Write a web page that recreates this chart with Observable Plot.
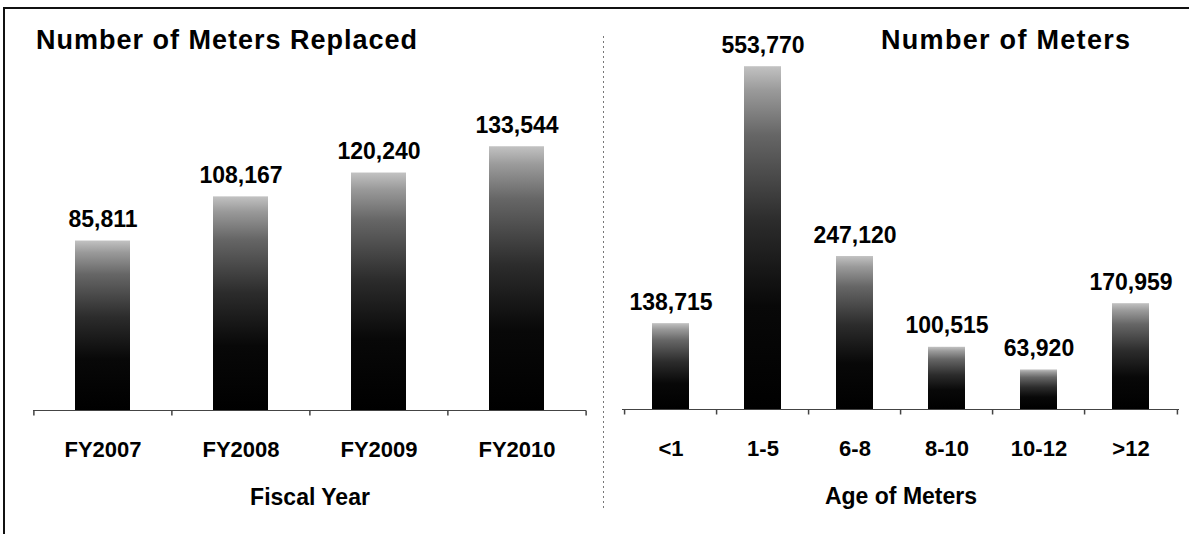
<!DOCTYPE html>
<html><head><meta charset="utf-8">
<script src="https://cdn.jsdelivr.net/npm/d3@7"></script>
<script src="https://cdn.jsdelivr.net/npm/@observablehq/plot@0.6"></script>
<style>
html,body{margin:0;padding:0;background:#fff;}
#wrap{position:relative;width:1189px;height:534px;overflow:hidden;background:#fff;font-family:"Liberation Sans",Arial,Helvetica,sans-serif;}
.title{position:absolute;font-weight:bold;font-size:27px;line-height:27px;color:#000;white-space:nowrap;letter-spacing:1px;}
.panel{position:absolute;top:0;}
#borderTop{position:absolute;left:3px;top:7px;width:1186px;height:2px;background:#111;}
#borderLeft{position:absolute;left:3px;top:7px;width:2px;height:527px;background:#111;}
#divider{position:absolute;left:603px;top:36px;width:1px;height:472px;background-image:linear-gradient(to bottom,#777 0,#777 2px,transparent 2px);background-size:1px 5px;}
</style></head><body>
<div id="wrap">
  <div id="borderTop"></div>
  <div id="borderLeft"></div>
  <div id="divider"></div>
  <div id="leftPanel" class="panel" style="left:0px"></div>
  <div id="rightPanel" class="panel" style="left:603px"></div>
  <div class="title" style="left:36px;top:27px">Number of Meters Replaced</div>
  <div class="title" style="left:881px;top:27px;letter-spacing:1.3px">Number of Meters</div>
</div>
<script>
// ---- data ----
const fiscalYears = ["FY2007", "FY2008", "FY2009", "FY2010"];
const metersReplaced = [85811, 108167, 120240, 133544];
const ageGroups = ["<1", "1-5", "6-8", "8-10", "10-12", ">12"];
const meterCounts = [138715, 553770, 247120, 100515, 63920, 170959];
const leftAxisLabel = "Fiscal Year";
const rightAxisLabel = "Age of Meters";

const FONT = '"Liberation Sans", Arial, Helvetica, sans-serif';
const fmt = d3.format(",");
const gradStops = [[0, "#c2c2c2"], [0.07, "#9a9a9a"], [0.2, "#666"], [0.45, "#2c2c2c"], [0.7, "#080808"], [1, "#000"]];

const tickSymbol = {draw(ctx) { ctx.moveTo(0, 0); ctx.lineTo(0, 5); }};

function makePanel({cats, vals, width, height, marginLeft, marginRight, marginTop, marginBottom, yMax, xLabel, gradId}) {
  const data = cats.map((c, i) => ({cat: c, val: vals[i]}));
  const step = (width - marginLeft - marginRight) / cats.length;
  const defs = () => {
    const d = d3.create("svg:defs");
    const lg = d.append("linearGradient").attr("id", gradId)
      .attr("x1", 0).attr("y1", 0).attr("x2", 0).attr("y2", 1);
    gradStops.forEach(([o, c]) => lg.append("stop").attr("offset", o).attr("stop-color", c));
    return d.node();
  };
  return Plot.plot({
    width, height, marginLeft, marginRight, marginTop, marginBottom,
    x: {domain: cats, paddingInner: 0.6, paddingOuter: 0.3, axis: null},
    y: {domain: [0, yMax], axis: null},
    style: {fontFamily: FONT, background: "transparent", overflow: "visible", color: "#000"},
    marks: [
      defs,
      Plot.barY(data, {x: "cat", y: "val", fill: `url(#${gradId})`}),
      Plot.ruleY([0], {stroke: "#444", strokeWidth: 1}),
      Plot.dot(cats, {x: d => d, y: () => 0, dx: -step / 2, symbol: tickSymbol, stroke: "#444", fill: "none", r: 5}),
      Plot.dot(cats.slice(-1), {x: d => d, y: () => 0, dx: step / 2, symbol: tickSymbol, stroke: "#444", fill: "none", r: 5}),
      Plot.text(data, {x: "cat", y: "val", text: d => fmt(d.val), lineAnchor: "bottom", dy: -14, fontSize: 23, fontWeight: "bold", fill: "#000"}),
      Plot.text(cats, {x: d => d, text: d => d, frameAnchor: "bottom", lineAnchor: "middle", dy: 39, fontSize: 22, fontWeight: "bold", fill: "#000"}),
      Plot.text([xLabel], {text: d => d, frameAnchor: "bottom", lineAnchor: "middle", dy: 87, fontSize: 23, fontWeight: "bold", fill: "#000"})
    ]
  });
}

document.getElementById("leftPanel").appendChild(makePanel({
  cats: fiscalYears, vals: metersReplaced, width: 603, height: 534,
  marginLeft: 33, marginRight: 17, marginTop: 113.75, marginBottom: 124,
  yMax: 150000, xLabel: leftAxisLabel, gradId: "gradL"
}));
document.getElementById("rightPanel").appendChild(makePanel({
  cats: ageGroups, vals: meterCounts, width: 586, height: 534,
  marginLeft: 19, marginRight: 10, marginTop: 37.6, marginBottom: 125,
  yMax: 600000, xLabel: rightAxisLabel, gradId: "gradR"
}));
</script>
</body></html>
